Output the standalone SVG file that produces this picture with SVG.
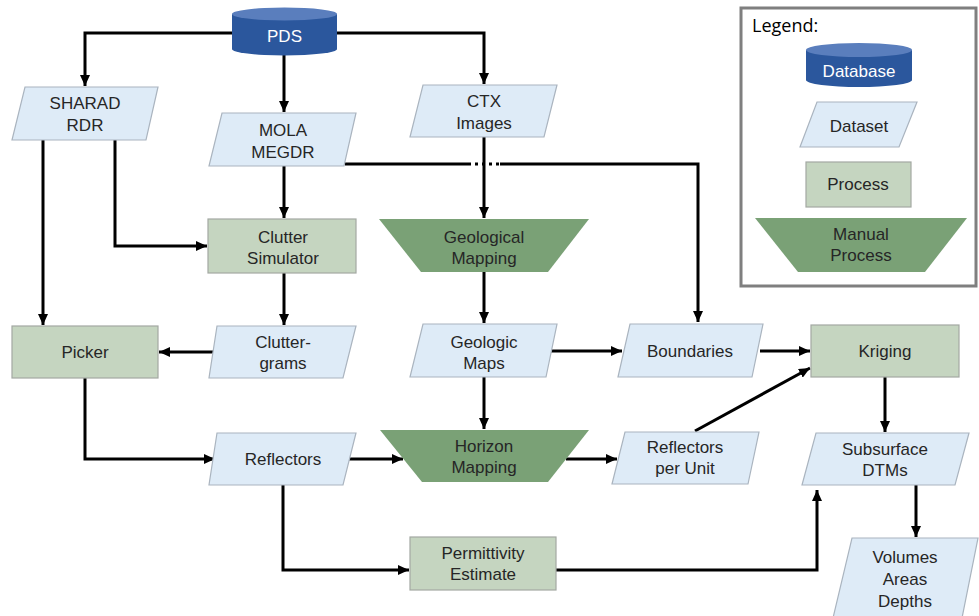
<svg xmlns="http://www.w3.org/2000/svg" width="979" height="616" viewBox="0 0 979 616">
<defs>
<marker id="ah" markerUnits="userSpaceOnUse" markerWidth="12" markerHeight="10" refX="11" refY="5" orient="auto">
<path d="M0,0 L11,5 L0,10 Z" fill="#000"/>
</marker>
<style>
.t{font-family:"Liberation Sans",Arial,sans-serif;font-size:17px;fill:#262626;text-anchor:middle}
.tw{font-family:"Liberation Sans",Arial,sans-serif;font-size:17px;fill:#ffffff;text-anchor:middle}
.ds{fill:#deebf7;stroke:#aab4bf;stroke-width:1.2}
.pr{fill:#c5d5c0;stroke:#a3a8a2;stroke-width:1.2}
.mp{fill:#7aa176;stroke:none}
.dbb{fill:#2b579d}
.dbt{fill:#5a7ebd}
.c{fill:none;stroke:#000;stroke-width:3}
.ca{fill:none;stroke:#000;stroke-width:3;marker-end:url(#ah)}
</style>
</defs>
<rect width="979" height="616" fill="#ffffff"/>

<g id="connectors">
<path class="ca" d="M232,33 L85,33 L85,86"/>
<path class="ca" d="M337,33 L484,33 L484,84"/>
<path class="ca" d="M284,55 L284,112"/>
<path class="ca" d="M43,140 L43,325"/>
<path class="ca" d="M115,140 L115,246 L207,246"/>
<path class="ca" d="M284,166 L284,218"/>
<path class="c" d="M345,164 L468,164"/>
<path class="c" d="M468,164 L500,164" stroke-dasharray="3,4"/>
<path class="ca" d="M500,164 L698,164 L698,322"/>
<path class="ca" d="M484,137 L484,218"/>
<path class="ca" d="M484,272 L484,323"/>
<path class="ca" d="M284,273 L284,325"/>
<path class="ca" d="M215,352 L159,352"/>
<path class="ca" d="M551,351 L622,351"/>
<path class="ca" d="M760,351 L810,351"/>
<path class="ca" d="M85,378 L85,459 L215,459"/>
<path class="ca" d="M349,459 L403,459"/>
<path class="ca" d="M484,377 L484,429"/>
<path class="ca" d="M566,459 L617,459"/>
<path class="ca" d="M695,431 L810,368"/>
<path class="ca" d="M885,377 L885,432"/>
<path class="ca" d="M916,485 L916,537"/>
<path class="ca" d="M283,485 L283,570 L409,570"/>
<path class="ca" d="M556,570 L817,570 L817,490"/>
</g>

<g id="pds">
<path class="dbb" d="M232,14 L232,49 A52.5,6.5 0 0 0 337,49 L337,14 Z"/>
<ellipse class="dbt" cx="284.5" cy="14" rx="52.5" ry="6.5"/>
<text class="tw" x="284.5" y="42">PDS</text>
</g>

<g id="sharad">
<polygon class="ds" points="25,87 158,87 146,140 12,140"/>
<text class="t" x="85" y="109">SHARAD</text>
<text class="t" x="85" y="131">RDR</text>
</g>

<g id="mola">
<polygon class="ds" points="222,113 356,113 344,166 209,166"/>
<text class="t" x="283" y="136">MOLA</text>
<text class="t" x="283" y="158">MEGDR</text>
</g>

<g id="ctx">
<polygon class="ds" points="423,85 557,85 544,137 410,137"/>
<text class="t" x="484" y="107">CTX</text>
<text class="t" x="484" y="129">Images</text>
</g>

<g id="clutter-simulator">
<rect class="pr" x="208" y="219" width="148" height="54"/>
<text class="t" x="283" y="243">Clutter</text>
<text class="t" x="283" y="264">Simulator</text>
</g>

<g id="geological-mapping">
<polygon class="mp" points="379,219 589,219 548,272 421,272"/>
<text class="t" x="484" y="243">Geological</text>
<text class="t" x="484" y="264">Mapping</text>
</g>

<g id="picker">
<rect class="pr" x="12" y="326" width="146" height="52"/>
<text class="t" x="85" y="358">Picker</text>
</g>

<g id="cluttergrams">
<polygon class="ds" points="217,326 356,326 343,378 209,378"/>
<text class="t" x="283" y="348">Clutter-</text>
<text class="t" x="283" y="369">grams</text>
</g>

<g id="geologic-maps">
<polygon class="ds" points="423,324 557,324 546,377 410,377"/>
<text class="t" x="484" y="348">Geologic</text>
<text class="t" x="484" y="369">Maps</text>
</g>

<g id="boundaries">
<polygon class="ds" points="630,324 763,324 752,377 618,377"/>
<text class="t" x="690" y="357">Boundaries</text>
</g>

<g id="kriging">
<rect class="pr" x="811" y="325" width="148" height="52"/>
<text class="t" x="885" y="357">Kriging</text>
</g>

<g id="reflectors">
<polygon class="ds" points="217,433 356,433 343,485 209,485"/>
<text class="t" x="283" y="465">Reflectors</text>
</g>

<g id="horizon-mapping">
<polygon class="mp" points="380,430 589,430 548,482 422,482"/>
<text class="t" x="484" y="452">Horizon</text>
<text class="t" x="484" y="473">Mapping</text>
</g>

<g id="reflectors-per-unit">
<polygon class="ds" points="625,432 759,432 748,484 612,484"/>
<text class="t" x="685" y="453">Reflectors</text>
<text class="t" x="685" y="474">per Unit</text>
</g>

<g id="subsurface-dtms">
<polygon class="ds" points="816,433 969,433 955,485 802,485"/>
<text class="t" x="885" y="455">Subsurface</text>
<text class="t" x="885" y="476">DTMs</text>
</g>

<g id="volumes">
<polygon class="ds" points="852,538 978,538 962,618 833,618"/>
<text class="t" x="905" y="563">Volumes</text>
<text class="t" x="905" y="585">Areas</text>
<text class="t" x="905" y="607">Depths</text>
</g>

<g id="permittivity-estimate">
<rect class="pr" x="410" y="537" width="146" height="53"/>
<text class="t" x="483" y="559">Permittivity</text>
<text class="t" x="483" y="580">Estimate</text>
</g>

<g id="legend">
<rect x="741" y="8" width="235" height="278" fill="#ffffff" stroke="#7f7f7f" stroke-width="3"/>
<text x="752" y="32" font-family="'Open Sans','Liberation Sans',sans-serif" font-size="18" fill="#000">Legend:</text>
<path class="dbb" d="M806,50 L806,80 A53,7 0 0 0 912,80 L912,50 Z"/>
<ellipse class="dbt" cx="859" cy="50" rx="53" ry="7"/>
<text class="tw" x="859" y="77">Database</text>
<polygon class="ds" points="817,102 917,102 899,147 800,147"/>
<text class="t" x="859" y="132">Dataset</text>
<rect class="pr" x="806" y="162" width="105" height="45"/>
<text class="t" x="858" y="190">Process</text>
<polygon class="mp" points="755,218 967,218 925,272 798,272"/>
<text class="t" x="861" y="240">Manual</text>
<text class="t" x="861" y="261">Process</text>
</g>
</svg>
